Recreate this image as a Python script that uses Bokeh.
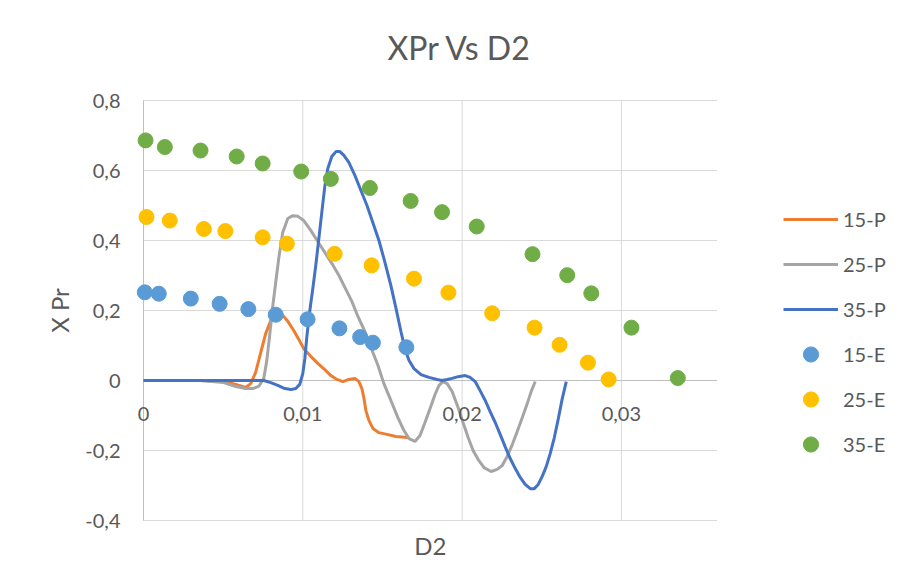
import math
from bokeh.plotting import figure
from bokeh.models import Range1d, Legend, LegendItem, LabelSet, Label, ColumnDataSource
from bokeh.core.properties import value
from bokeh.embed import file_html
from bokeh.resources import INLINE

# ---------------- data ----------------
x_15p = [0, 0.00358, 0.00503, 0.00579, 0.00642, 0.00673, 0.00704, 0.00736, 0.00767, 0.00799,
         0.00836, 0.00868, 0.00906, 0.00943, 0.00975, 0.01006, 0.0105, 0.01094, 0.01138, 0.01176,
         0.01214, 0.01252, 0.01289, 0.01327, 0.01352, 0.01371, 0.01384, 0.01396, 0.01415, 0.0144,
         0.01478, 0.01528, 0.01585, 0.0166]
y_15p = [0, 0, -0.003, -0.011, -0.020, -0.009, 0.023, 0.080, 0.134, 0.171,
         0.189, 0.189, 0.169, 0.143, 0.117, 0.091, 0.069, 0.049, 0.031, 0.014,
         0.003, -0.003, 0.003, 0.006, -0.003, -0.023, -0.051, -0.086, -0.114, -0.137,
         -0.149, -0.154, -0.160, -0.163]

x_25p = [0, 0.00358, 0.00503, 0.00579, 0.00642, 0.00686, 0.00723, 0.00755, 0.00774, 0.00792,
         0.00811, 0.0083, 0.00849, 0.00874, 0.00906, 0.00937, 0.00969, 0.01006, 0.0105, 0.01094,
         0.01138, 0.01183, 0.01227, 0.01264, 0.01308, 0.01346, 0.0139, 0.01428, 0.01472, 0.01509,
         0.01553, 0.01597, 0.01635, 0.01667, 0.01704, 0.01736, 0.01767, 0.01799, 0.0183, 0.01855,
         0.0188, 0.01906, 0.01937, 0.01975, 0.02006, 0.02038, 0.02069, 0.02101, 0.02138, 0.02182,
         0.0222, 0.02252, 0.02283, 0.02315, 0.02346, 0.02378, 0.02409, 0.02434, 0.02459]
y_25p = [0, 0, -0.006, -0.017, -0.023, -0.023, -0.017, 0.006, 0.057, 0.129,
         0.211, 0.280, 0.349, 0.423, 0.463, 0.471, 0.469, 0.457, 0.429, 0.397,
         0.366, 0.334, 0.300, 0.266, 0.226, 0.183, 0.140, 0.094, 0.043, -0.009,
         -0.057, -0.106, -0.143, -0.166, -0.174, -0.157, -0.120, -0.080, -0.040, -0.014,
         -0.003, -0.009, -0.031, -0.077, -0.120, -0.163, -0.200, -0.226, -0.249, -0.260,
         -0.254, -0.243, -0.217, -0.183, -0.146, -0.106, -0.066, -0.031, -0.003]

x_35p = [0, 0.00755, 0.00799, 0.00843, 0.00887, 0.00925, 0.00956, 0.00981, 0.01, 0.01013,
         0.01025, 0.01038, 0.0105, 0.01063, 0.01082, 0.01101, 0.0112, 0.01138, 0.01157, 0.01182,
         0.01208, 0.01233, 0.01258, 0.01289, 0.01327, 0.01365, 0.01403, 0.0144, 0.01478, 0.01516,
         0.01553, 0.01585, 0.01616, 0.01642, 0.01667, 0.01698, 0.01742, 0.01792, 0.01843, 0.01874,
         0.01906, 0.01937, 0.01975, 0.02019, 0.0205, 0.02082, 0.02113, 0.02145, 0.02176, 0.02208,
         0.02239, 0.0227, 0.02302, 0.02333, 0.02365, 0.02396, 0.02428, 0.02453, 0.02478, 0.02503,
         0.02528, 0.02553, 0.02579, 0.02604, 0.02629, 0.02654]
y_35p = [0, 0, -0.006, -0.014, -0.023, -0.026, -0.023, -0.011, 0.020, 0.063,
         0.123, 0.177, 0.220, 0.263, 0.331, 0.406, 0.483, 0.554, 0.606, 0.640,
         0.654, 0.654, 0.643, 0.623, 0.586, 0.543, 0.500, 0.451, 0.400, 0.337,
         0.271, 0.206, 0.140, 0.089, 0.057, 0.034, 0.017, 0.009, 0.003, 0.0,
         0.003, 0.006, 0.011, 0.014, 0.009, -0.003, -0.029, -0.057, -0.089, -0.120,
         -0.154, -0.189, -0.223, -0.251, -0.277, -0.297, -0.309, -0.309, -0.297, -0.274,
         -0.246, -0.209, -0.163, -0.109, -0.051, -0.003]

x_15e = [0.00008, 0.00096, 0.00297, 0.00478, 0.00658, 0.0083, 0.0103, 0.0123, 0.0136, 0.0144, 0.0165]
y_15e = [0.252, 0.248, 0.234, 0.219, 0.204, 0.188, 0.175, 0.149, 0.124, 0.108, 0.095]

x_25e = [0.00019, 0.00165, 0.00379, 0.00514, 0.00748, 0.009, 0.012, 0.01432, 0.01698, 0.01914,
         0.02189, 0.02455, 0.02612, 0.0279, 0.0292]
y_25e = [0.467, 0.457, 0.433, 0.427, 0.409, 0.391, 0.362, 0.329, 0.291, 0.251,
         0.192, 0.151, 0.102, 0.051, 0.003]

x_35e = [0.00013, 0.00134, 0.00358, 0.00585, 0.00748, 0.0099, 0.01176, 0.01421, 0.01677, 0.01874,
         0.02092, 0.02442, 0.0266, 0.02811, 0.03063, 0.03354]
y_35e = [0.686, 0.667, 0.657, 0.640, 0.620, 0.597, 0.576, 0.550, 0.513, 0.481,
         0.440, 0.361, 0.301, 0.249, 0.151, 0.007]

x_ticks = [0, 0.01, 0.02, 0.03]
x_tick_labels = ["0", "0,01", "0,02", "0,03"]
y_ticks = [-0.4, -0.2, 0, 0.2, 0.4, 0.6, 0.8]
y_tick_labels = ["-0,4", "-0,2", "0", "0,2", "0,4", "0,6", "0,8"]

series_names = ["15-P", "25-P", "35-P", "15-E", "25-E", "35-E"]
title_text = "XPr Vs D2"
x_title = "D2"
y_title = "X Pr"

# axis extents of the plot area
X_MIN, X_MAX = 0.0, 0.036
Y_MIN, Y_MAX = -0.4, 0.8

# ---------------- styling ----------------
FONT = "Lato"
TXT = "#595959"
GRID = "#d9d9d9"
AXIS = "#bfbfbf"

# The whole canvas is the frame so that texts outside the plot area are not clipped.
# Plot area: x 0 -> px 143, 0.036 -> px 716 ; y 0.8 -> px 100, -0.4 -> px 520
PX_PER_X = 15930.0
PX_PER_Y = 350.0
W, H = 900, 584
x_lo = X_MIN - 143 / PX_PER_X
x_hi = X_MIN + (W - 143) / PX_PER_X
y_hi = Y_MAX + 100 / PX_PER_Y
y_lo = Y_MAX - (H - 100) / PX_PER_Y

p = figure(width=W, height=H, output_backend="svg", toolbar_location=None,
           x_range=Range1d(x_lo, x_hi), y_range=Range1d(y_lo, y_hi),
           x_axis_location=None, y_axis_location=None,
           min_border_left=0, min_border_right=0, min_border_top=0, min_border_bottom=0)
p.outline_line_color = None
p.background_fill_color = "white"
p.border_fill_color = "white"
p.xgrid.visible = False
p.ygrid.visible = False

# gridlines limited to the plot area
p.segment(x0=x_ticks, y0=[Y_MIN] * len(x_ticks), x1=x_ticks, y1=[Y_MAX] * len(x_ticks),
          line_color=GRID, line_width=1)
p.segment(x0=[X_MIN] * len(y_ticks), y0=y_ticks, x1=[X_MAX] * len(y_ticks), y1=y_ticks,
          line_color=GRID, line_width=1)
# axis lines (vertical at x=0, horizontal at y=0)
p.segment(x0=[X_MIN, X_MIN], y0=[Y_MIN, 0], x1=[X_MIN, X_MAX], y1=[Y_MAX, 0],
          line_color=AXIS, line_width=1)

# ---------------- series ----------------
r1 = p.line(x_15p, y_15p, line_color="#ED7D31", line_width=3)
r2 = p.line(x_25p, y_25p, line_color="#A5A5A5", line_width=3)
r3 = p.line(x_35p, y_35p, line_color="#4472C4", line_width=3)
r4 = p.scatter(x_15e, y_15e, marker="circle", size=15, fill_color="#5B9BD5", line_color="#5B9BD5")
r5 = p.scatter(x_25e, y_25e, marker="circle", size=15, fill_color="#FFC000", line_color="#FFC000")
r6 = p.scatter(x_35e, y_35e, marker="circle", size=15, fill_color="#70AD47", line_color="#70AD47")

# ---------------- texts ----------------
xsrc = ColumnDataSource(dict(x=x_ticks, y=[0] * len(x_ticks), t=x_tick_labels))
p.add_layout(LabelSet(x="x", y="y", text="t", source=xsrc, text_align="center",
                      text_baseline="middle", y_offset=-33, text_font=value(FONT),
                      text_font_size=value("20px"), text_color=value(TXT)))

ysrc = ColumnDataSource(dict(x=[X_MIN] * len(y_ticks), y=y_ticks, t=y_tick_labels))
p.add_layout(LabelSet(x="x", y="y", text="t", source=ysrc, text_align="right",
                      text_baseline="middle", x_offset=-23, text_font=value(FONT),
                      text_font_size=value("20px"), text_color=value(TXT)))

p.add_layout(Label(x=(X_MIN + X_MAX) / 2, y=Y_MIN, y_offset=-25, text=x_title,
                   text_align="center", text_baseline="middle", text_font=FONT,
                   text_font_size="24px", text_color=TXT))
p.add_layout(Label(x=X_MIN, y=(Y_MIN + Y_MAX) / 2, x_offset=-84, text=y_title, angle=math.pi / 2,
                   text_align="center", text_baseline="middle", text_font=FONT,
                   text_font_size="24px", text_color=TXT))
p.add_layout(Label(x=0.01984, y=Y_MAX, y_offset=53, text=title_text,
                   text_align="center", text_baseline="middle", text_font=FONT,
                   text_font_size="32px", text_color=TXT))

legend = Legend(items=[LegendItem(label=n, renderers=[r]) for n, r in
                       zip(series_names, [r1, r2, r3, r4, r5, r6])],
                location=(783, 121), orientation="vertical",
                glyph_width=55, glyph_height=38, label_height=38, spacing=7,
                label_standoff=5, padding=0, margin=0,
                label_text_font=FONT, label_text_font_size="20px", label_text_color=TXT,
                border_line_color=None, background_fill_alpha=0)
p.add_layout(legend)

open("out.html", "w").write(file_html(p, INLINE))
